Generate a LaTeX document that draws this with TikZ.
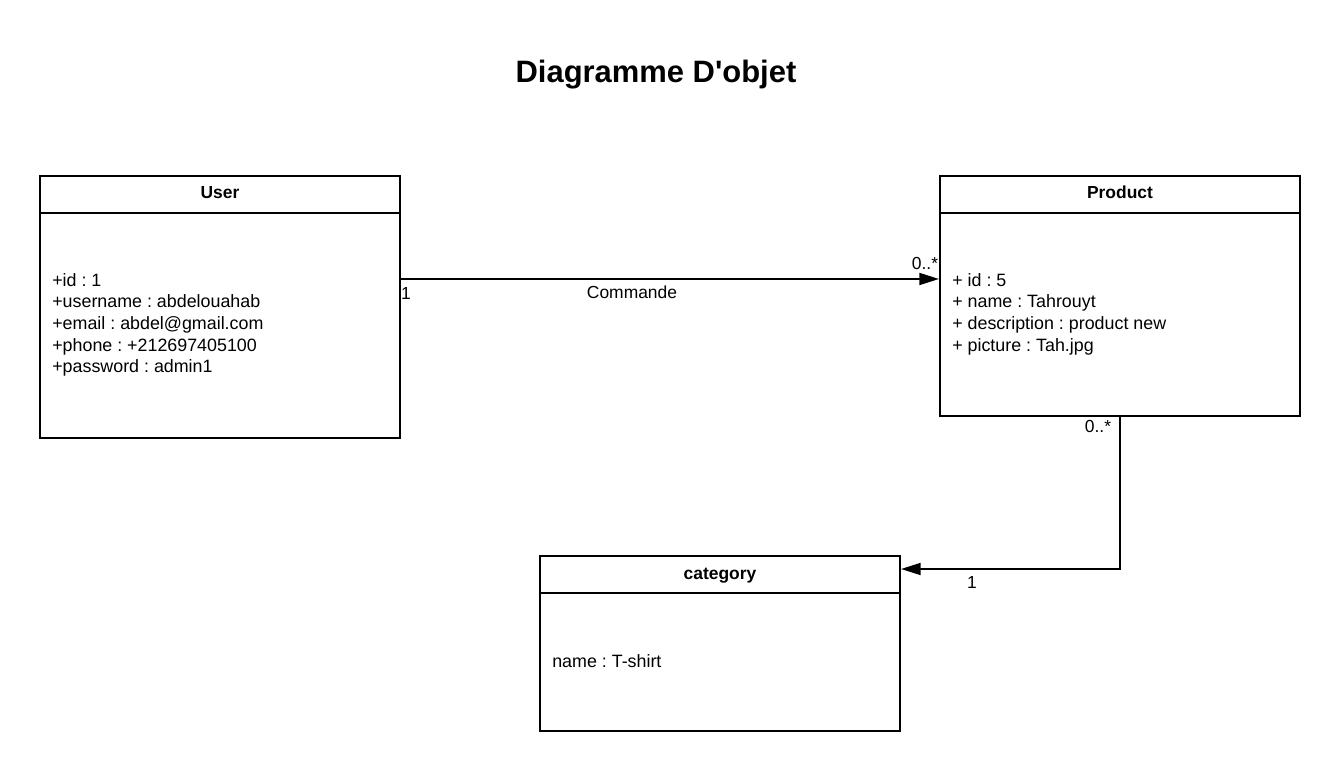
\documentclass[tikz,border=0pt]{standalone}
\usepackage{fontspec}
\setmainfont{Liberation Sans}
\usetikzlibrary{calc,arrows.meta}
\frenchspacing
\tikzstyle{classbox} = [draw,line width=1.4pt,minimum width=9cm,inner sep=0pt]
\tikzstyle{classname} = [anchor=base,font=\bfseries\fontsize{12.4}{15}\selectfont]
\tikzstyle{attrs} = [anchor=west,align=left,inner sep=0pt,font=\fontsize{12.7}{15.4}\selectfont]
\tikzstyle{mult} = [inner sep=0pt,font=\fontsize{12.4}{15}\selectfont]
\tikzstyle{assoc} = [line width=1.4pt,->]

\begin{document}
\begin{tikzpicture}[x=0.025cm,y=-0.025cm,>={Triangle[length=14pt,width=8.5pt]}]
\useasboundingbox (0,0) rectangle (1340,772);
\node[font=\bfseries\fontsize{22}{26}\selectfont] at (656,75) (title) {Diagramme D\textquotesingle objet};
%%% Draw classes
\foreach \n/\t/\x/\y/\h in {user/User/220/307/6.55cm, product/Product/1120/296/6cm, category/category/720/643.5/4.375cm} {
    \node[classbox,minimum height=\h] at (\x,\y) (\n) {};
    % Header
    \draw[line width=1.4pt] ($(\n.north west)+(0,38)$) -- ($(\n.north east)+(0,38)$);
    \node[classname] at ($(\n.north)+(0,24)$) (\n name) {\t};
}
% Attributes
\node[attrs] at (52,325) (userattrs) {+id : 1\\+username : abdelouahab\\+email : abdel@gmail.com\\+phone : +212697405100\\+password : admin1};
\node[attrs] at (952,314) (productattrs) {+ id : 5\\+ name : Tahrouyt\\+ description : product new\\+ picture : Tah.jpg};
\node[attrs] at (552,661.5) (categoryattrs) {name : T-shirt};

%%% Draw associations
\draw[assoc] ($(user.north east)+(0,104)$) -- ($(product.north west)+(0,104)$);
\node[mult] at (406,293) (usermult) {1};
\node[mult] at (632,292) (commande) {Commande};
\node[mult] at (925,263) (productmult) {0..*};
\draw[assoc] (product.south) |- ($(category.north east)+(0,14)$);
\node[mult] at (1098,426) (productmult2) {0..*};
\node[mult] at (972,582) (categorymult) {1};
\end{tikzpicture}
\end{document}
